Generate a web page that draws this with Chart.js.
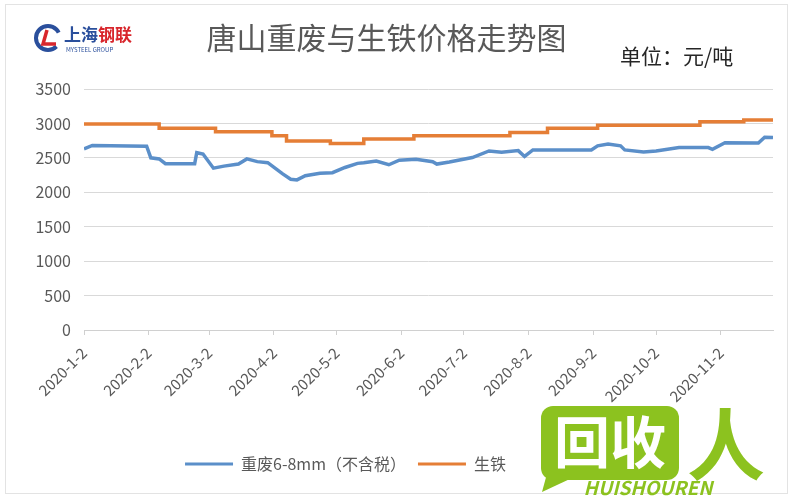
<!DOCTYPE html>
<html><head><meta charset="utf-8">
<script src="https://cdn.jsdelivr.net/npm/chart.js@4/dist/chart.umd.min.js"></script>
<style>html,body{margin:0;padding:0;background:#fff}#wrap{width:800px;height:500px;position:relative}</style>
</head><body><div id="wrap"><canvas id="c" width="800" height="500"></canvas></div>
<script>
// ---- data ----
const chartTitle = '唐山重废与生铁价格走势图';
const unitText = '单位：元/吨';
const seriesNames = ['重废6-8mm（不含税）', '生铁'];
const monthTickLabels = ['2020-1-2','2020-2-2','2020-3-2','2020-4-2','2020-5-2','2020-6-2','2020-7-2','2020-8-2','2020-9-2','2020-10-2','2020-11-2'];
const yTicks = [0,500,1000,1500,2000,2500,3000,3500];
const axisStart = '2020-1-2';
const axisEnd = '2020-11-27';

const scrapDates = ['2020-1-2','2020-1-6','2020-2-1','2020-2-3','2020-2-7','2020-2-10','2020-2-24','2020-2-25','2020-2-28','2020-3-4','2020-3-9','2020-3-16','2020-3-20','2020-3-25','2020-3-30','2020-4-6','2020-4-10','2020-4-13','2020-4-17','2020-4-24','2020-4-30','2020-5-6','2020-5-12','2020-5-15','2020-5-21','2020-5-27','2020-6-1','2020-6-9','2020-6-17','2020-6-19','2020-6-25','2020-7-6','2020-7-14','2020-7-20','2020-7-28','2020-7-31','2020-8-4','2020-9-1','2020-9-4','2020-9-9','2020-9-15','2020-9-17','2020-9-26','2020-10-2','2020-10-13','2020-10-27','2020-10-29','2020-11-4','2020-11-20','2020-11-23','2020-11-27'];
const scrapPrices = [2630,2680,2670,2500,2485,2415,2415,2575,2555,2350,2380,2410,2485,2445,2430,2270,2190,2180,2240,2275,2285,2360,2420,2430,2455,2400,2467,2480,2445,2410,2440,2505,2600,2580,2605,2520,2615,2615,2675,2700,2675,2615,2585,2600,2650,2650,2625,2720,2715,2800,2795];

const ironDates = ['2020-1-2','2020-2-7','2020-3-5','2020-4-1','2020-4-8','2020-4-29','2020-5-15','2020-6-8','2020-7-24','2020-8-11','2020-9-4','2020-10-23','2020-11-13','2020-11-27'];
const ironPrices = [2990,2930,2880,2820,2745,2710,2775,2820,2870,2930,2975,3025,3050,3050];

// ---- helpers ----
function dayOffset(s){const p=s.split('-').map(Number);const a=axisStart.split('-').map(Number);return (Date.UTC(p[0],p[1]-1,p[2])-Date.UTC(a[0],a[1]-1,a[2]))/86400000;}
const FONT = "'Noto Sans CJK SC', 'Noto Sans', sans-serif";
const tickDays = monthTickLabels.map(dayOffset);
const BLUE = '#5b8fc9', ORANGE = '#e57e36';

const extras = {
  id:'extras',
  afterLayout(chart){
    const lg = chart.legend; if(lg){ lg.left -= 41; lg.right -= 41; }
  },
  beforeDraw(chart){
    const ctx = chart.ctx; ctx.save();
    ctx.fillStyle='#fff'; ctx.fillRect(0,0,800,500);
    ctx.strokeStyle='#e3e3e3'; ctx.lineWidth=1; ctx.strokeRect(5.5,4.5,782,489);
    // logo
    ctx.lineWidth=4; ctx.strokeStyle='#2a4f9c';
    ctx.beginPath(); ctx.arc(48,38,12,0.25*Math.PI,1.85*Math.PI); ctx.stroke();
    ctx.strokeStyle='#d8262c'; ctx.lineWidth=3.5;
    ctx.beginPath(); ctx.moveTo(47,30); ctx.lineTo(43,44); ctx.lineTo(56,44); ctx.stroke();
    ctx.font = "bold 17px "+FONT; ctx.textBaseline='middle'; ctx.textAlign='left';
    ctx.fillStyle='#2a4f9c'; ctx.fillText('上海',64,35);
    ctx.fillStyle='#d8262c'; ctx.fillText('钢联',98,35);
    ctx.font = "6px "+FONT; ctx.fillStyle='#2a4f9c'; ctx.fillText('MYSTEEL GROUP',66,50);
    // unit
    ctx.font = "21px "+FONT; ctx.fillStyle='#262626'; ctx.fillText(unitText,620,56);
    ctx.restore();
  },
  afterDraw(chart){
    const ctx = chart.ctx; ctx.save();
    ctx.fillStyle='#8cc21f';
    ctx.beginPath(); ctx.roundRect(541,406,138,74,12); ctx.fill();
    ctx.beginPath(); ctx.moveTo(548,470); ctx.lineTo(542,492); ctx.lineTo(572,478); ctx.fill();
    ctx.fillStyle='#fff'; ctx.font="bold 56px "+FONT; ctx.textAlign='center'; ctx.textBaseline='middle';
    ctx.fillText('回收',610,442);
    ctx.fillStyle='#8cc21f'; ctx.font="bold 78px "+FONT; ctx.fillText('人',726,444);
    ctx.font="italic bold 19px "+FONT; ctx.fillText('HUISHOUREN',648,488);
    ctx.restore();
  }
};

new Chart(document.getElementById('c'), {
  type:'line',
  data:{ datasets:[
    { label:seriesNames[0], data:scrapDates.map((d,i)=>({x:dayOffset(d),y:scrapPrices[i]})), borderColor:BLUE, backgroundColor:BLUE, borderWidth:3.5, pointRadius:0, tension:0, fill:false },
    { label:seriesNames[1], data:ironDates.map((d,i)=>({x:dayOffset(d),y:ironPrices[i]})), borderColor:ORANGE, backgroundColor:ORANGE, borderWidth:3.5, pointRadius:0, stepped:true, fill:false }
  ]},
  options:{
    responsive:false, animation:false, devicePixelRatio:1,
    layout:{ padding:{ left:0, right:27, top:0, bottom:18 } },
    plugins:{
      title:{ display:true, text:chartTitle, color:'#595959', font:{ family:FONT, size:30, weight:'normal' }, padding:{ top:20, bottom:33 } },
      legend:{ position:'bottom', labels:{ color:'#595959', font:{ family:FONT, size:16 }, boxWidth:48, boxHeight:3, padding:12,
        generateLabels:(chart)=>Chart.defaults.plugins.legend.labels.generateLabels(chart).map(l=>({...l, lineWidth:0})) } },
      tooltip:{ enabled:false }
    },
    scales:{
      x:{ type:'linear', min:0, max:dayOffset(axisEnd),
        afterBuildTicks:(s)=>{ s.ticks = tickDays.map(v=>({value:v})); },
        afterFit:(s)=>{ const lh = s.chart.legend ? s.chart.legend.height : 0; s.height = 500 - 18 - lh - 330; },
        ticks:{ autoSkip:false, maxRotation:45, minRotation:45, color:'#595959', font:{ family:FONT, size:15 }, padding:9,
          callback:(v,i)=>monthTickLabels[i] },
        grid:{ display:true, drawOnChartArea:false, drawTicks:true, tickLength:5, color:'#d0d0d0' },
        border:{ display:true, color:'#d0d0d0', width:1 }
      },
      y:{ min:0, max:3500,
        afterBuildTicks:(s)=>{ s.ticks = yTicks.map(v=>({value:v})); },
        afterFit:(s)=>{ s.width = 84; },
        ticks:{ color:'#595959', font:{ family:FONT, size:16 }, padding:13, callback:(v)=>String(v) },
        grid:{ color:'#d9d9d9', drawTicks:false },
        border:{ display:false }
      }
    }
  },
  plugins:[extras]
});
</script></body></html>
